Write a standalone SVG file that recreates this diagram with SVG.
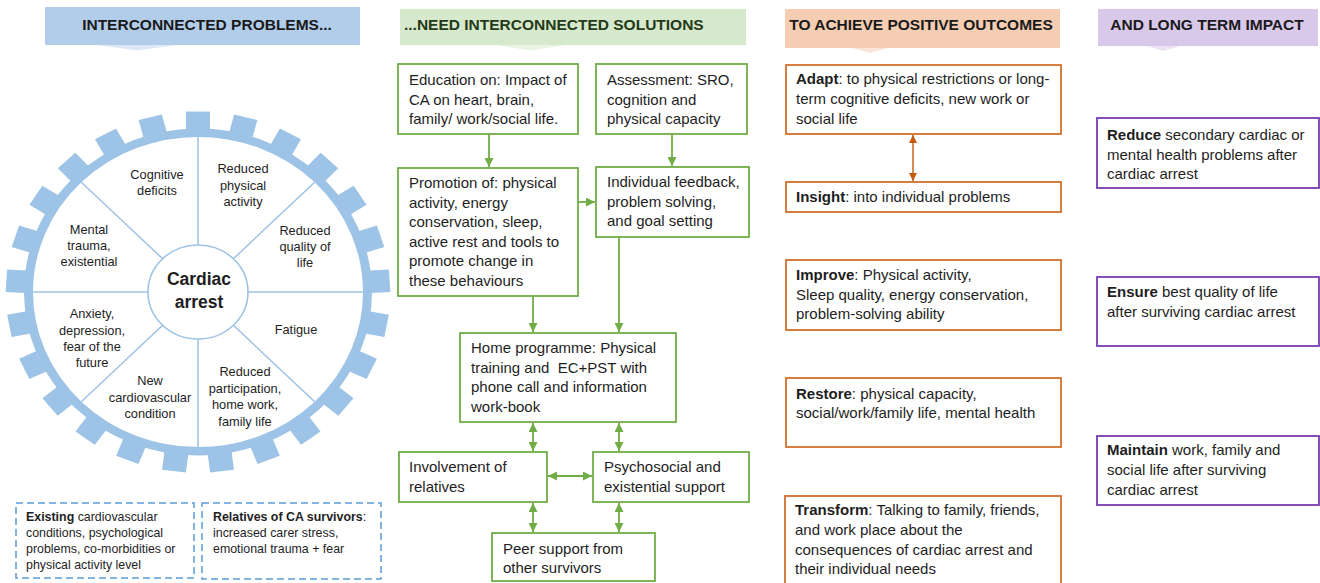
<svg xmlns="http://www.w3.org/2000/svg" xmlns:xlink="http://www.w3.org/1999/xlink" width="1320" height="583" viewBox="0 0 1320 583">
  <style>
    .t { font-family: "Liberation Sans", Arial, sans-serif; fill: #1e1e1e; }
    .s15 { font-size: 15px; }
    .s13 { font-size: 12.8px; }
    .s12 { font-size: 12.4px; }
    .hdr { font-family: "Liberation Sans", Arial, sans-serif; font-weight: bold; font-size: 15.5px; fill: #1a1a1a; }
    .b { font-weight: bold; }
    .mid { text-anchor: middle; }
    .ringfill { fill: #9dc3e6; }
    .spoke { stroke: #9dc3e6; stroke-width: 1.5; fill: none; }
    .gbox { fill: #ffffff; stroke: #70ad47; stroke-width: 1.8; }
    .obox { fill: #ffffff; stroke: #d2702c; stroke-width: 1.8; }
    .pbox { fill: #ffffff; stroke: #7a3bb0; stroke-width: 1.8; }
    .dbox { fill: none; stroke: #5b9bd5; stroke-width: 1.5; stroke-dasharray: 7 4; }
    .gline { stroke: #70ad47; stroke-width: 1.8; fill: none; }
    .oline { stroke: #c55a11; stroke-width: 1.4; fill: none; }
  </style>
  <defs>
    <marker id="ag" viewBox="0 0 10 10" refX="10" refY="5" markerWidth="9" markerHeight="9" markerUnits="userSpaceOnUse" orient="auto-start-reverse">
      <path d="M0,0 L10,5 L0,10 z" fill="#70ad47"/>
    </marker>
    <marker id="ao" viewBox="0 0 10 10" refX="10" refY="5" markerWidth="8" markerHeight="8" markerUnits="userSpaceOnUse" orient="auto-start-reverse">
      <path d="M0,0 L10,5 L0,10 z" fill="#c55a11"/>
    </marker>
    <rect id="tooth" class="ringfill" x="-12" y="-192" width="24" height="24"/>
  </defs>

  <rect width="1320" height="583" fill="#ffffff"/>

  <!-- column headers -->
  <g id="header-problems">
    <rect x="45" y="7" width="315" height="38" fill="#b2cdea"/>
    <polygon points="97,45 177,45 137,50.5" fill="#b2cdea" opacity="0.45"/>
    <text class="hdr mid" x="207" y="29.5">INTERCONNECTED PROBLEMS...</text>
  </g>
  <g id="header-solutions">
    <rect x="400" y="9" width="346" height="36" fill="#d6e9cc"/>
    <polygon points="496,45 566,45 531,50.5" fill="#d6e9cc" opacity="0.5"/>
    <text class="hdr" x="404" y="30" style="fill:#243a18">...NEED INTERCONNECTED SOLUTIONS</text>
  </g>
  <g id="header-outcomes">
    <rect x="785" y="9" width="275" height="39" fill="#f5cdb2"/>
    <polygon points="852,48 888,48 870,53" fill="#f5cdb2" opacity="0.5"/>
    <text class="hdr mid" x="921" y="30">TO ACHIEVE POSITIVE OUTCOMES</text>
  </g>
  <g id="header-impact">
    <rect x="1098" y="9" width="220" height="37" fill="#d8c8ea"/>
    <polygon points="1147,46 1180,46 1163,51" fill="#d8c8ea" opacity="0.5"/>
    <text class="hdr mid" x="1207" y="29.5">AND LONG TERM IMPACT</text>
  </g>

  <!-- cardiac arrest wheel -->
  <g id="wheel">
    <g transform="translate(198,292) scale(1,0.94)">
      <circle r="169.5" fill="#ffffff" stroke="#9dc3e6" stroke-width="9"/>
      <use xlink:href="#tooth" transform="rotate(0)"/>
      <use xlink:href="#tooth" transform="rotate(14.4)"/>
      <use xlink:href="#tooth" transform="rotate(28.8)"/>
      <use xlink:href="#tooth" transform="rotate(43.2)"/>
      <use xlink:href="#tooth" transform="rotate(57.6)"/>
      <use xlink:href="#tooth" transform="rotate(72)"/>
      <use xlink:href="#tooth" transform="rotate(86.4)"/>
      <use xlink:href="#tooth" transform="rotate(100.8)"/>
      <use xlink:href="#tooth" transform="rotate(115.2)"/>
      <use xlink:href="#tooth" transform="rotate(129.6)"/>
      <use xlink:href="#tooth" transform="rotate(144)"/>
      <use xlink:href="#tooth" transform="rotate(158.4)"/>
      <use xlink:href="#tooth" transform="rotate(172.8)"/>
      <use xlink:href="#tooth" transform="rotate(187.2)"/>
      <use xlink:href="#tooth" transform="rotate(201.6)"/>
      <use xlink:href="#tooth" transform="rotate(216)"/>
      <use xlink:href="#tooth" transform="rotate(230.4)"/>
      <use xlink:href="#tooth" transform="rotate(244.8)"/>
      <use xlink:href="#tooth" transform="rotate(259.2)"/>
      <use xlink:href="#tooth" transform="rotate(273.6)"/>
      <use xlink:href="#tooth" transform="rotate(288)"/>
      <use xlink:href="#tooth" transform="rotate(302.4)"/>
      <use xlink:href="#tooth" transform="rotate(316.8)"/>
      <use xlink:href="#tooth" transform="rotate(331.2)"/>
      <use xlink:href="#tooth" transform="rotate(345.6)"/>
      <!-- eight spokes -->
      <path class="spoke" d="M50,0 L165,0 M-50,0 L-165,0 M0,50 L0,165 M0,-50 L0,-165 M35.36,35.36 L116.67,116.67 M-35.36,35.36 L-116.67,116.67 M35.36,-35.36 L116.67,-116.67 M-35.36,-35.36 L-116.67,-116.67"/>
      <circle r="50" fill="#ffffff" stroke="#9dc3e6" stroke-width="1.6"/>
    </g>
    <text class="t mid b" x="199" y="285" style="font-size:17.5px">Cardiac</text>
    <text class="t mid b" x="199" y="307.5" style="font-size:17.5px">arrest</text>
  </g>

  <g id="seg-cognitive">
    <text class="t s13 mid" x="157" y="179">Cognitive</text>
    <text class="t s13 mid" x="157" y="195">deficits</text>
  </g>
  <g id="seg-physical">
    <text class="t s13 mid" x="243" y="173">Reduced</text>
    <text class="t s13 mid" x="243" y="189.5">physical</text>
    <text class="t s13 mid" x="243" y="205.5">activity</text>
  </g>
  <g id="seg-quality">
    <text class="t s13 mid" x="305" y="234.5">Reduced</text>
    <text class="t s13 mid" x="305" y="251">quality of</text>
    <text class="t s13 mid" x="305" y="267">life</text>
  </g>
  <g id="seg-fatigue">
    <text class="t s13 mid" x="296" y="333.5">Fatigue</text>
  </g>
  <g id="seg-participation">
    <text class="t s13 mid" x="245" y="376">Reduced</text>
    <text class="t s13 mid" x="245" y="392.5">participation,</text>
    <text class="t s13 mid" x="245" y="409">home work,</text>
    <text class="t s13 mid" x="245" y="425.5">family life</text>
  </g>
  <g id="seg-cardiovascular">
    <text class="t s13 mid" x="150" y="385">New</text>
    <text class="t s13 mid" x="150" y="401.5">cardiovascular</text>
    <text class="t s13 mid" x="150" y="418">condition</text>
  </g>
  <g id="seg-anxiety">
    <text class="t s13 mid" x="92" y="318">Anxiety,</text>
    <text class="t s13 mid" x="92" y="334.5">depression,</text>
    <text class="t s13 mid" x="92" y="350.5">fear of the</text>
    <text class="t s13 mid" x="92" y="366.5">future</text>
  </g>
  <g id="seg-mental">
    <text class="t s13 mid" x="89" y="233.5">Mental</text>
    <text class="t s13 mid" x="89" y="249.5">trauma,</text>
    <text class="t s13 mid" x="89" y="266">existential</text>
  </g>

  <!-- context boxes -->
  <g id="existing">
    <rect class="dbox" x="16" y="503" width="178" height="75"/>
    <text class="t s12" x="26" y="521"><tspan class="b">Existing</tspan> cardiovascular</text>
    <text class="t s12" x="26" y="537">conditions, psychological</text>
    <text class="t s12" x="26" y="553">problems, co-morbidities or</text>
    <text class="t s12" x="26" y="568.5">physical activity level</text>
  </g>
  <g id="relatives-ca">
    <rect class="dbox" x="202" y="503" width="179" height="76"/>
    <text class="t s12" x="213" y="521"><tspan class="b">Relatives of CA survivors</tspan>:</text>
    <text class="t s12" x="213" y="537">increased carer stress,</text>
    <text class="t s12" x="213" y="553">emotional trauma + fear</text>
  </g>

  <!-- solutions -->
  <g id="education">
    <rect class="gbox" x="398" y="64" width="180" height="70"/>
    <text class="t s15" x="409" y="85">Education on: Impact of</text>
    <text class="t s15" x="409" y="104.5">CA on heart, brain,</text>
    <text class="t s15" x="409" y="124">family/ work/social life.</text>
  </g>
  <g id="assessment">
    <rect class="gbox" x="596" y="64" width="151" height="70"/>
    <text class="t s15" x="607" y="85">Assessment: SRO,</text>
    <text class="t s15" x="607" y="104.5">cognition and</text>
    <text class="t s15" x="607" y="124">physical capacity</text>
  </g>
  <g id="promotion">
    <rect class="gbox" x="398" y="168" width="180" height="128"/>
    <text class="t s15" x="409" y="188">Promotion of: physical</text>
    <text class="t s15" x="409" y="207.5">activity, energy</text>
    <text class="t s15" x="409" y="227">conservation, sleep,</text>
    <text class="t s15" x="409" y="246.5">active rest and tools to</text>
    <text class="t s15" x="409" y="266">promote change in</text>
    <text class="t s15" x="409" y="285.5">these behaviours</text>
  </g>
  <g id="feedback">
    <rect class="gbox" x="596" y="167" width="153" height="70"/>
    <text class="t s15" x="607" y="187">Individual feedback,</text>
    <text class="t s15" x="607" y="206.5">problem solving,</text>
    <text class="t s15" x="607" y="226">and goal setting</text>
  </g>
  <g id="home-programme">
    <rect class="gbox" x="460" y="333" width="216" height="89"/>
    <text class="t s15" x="471" y="353">Home programme: Physical</text>
    <text class="t s15" x="471" y="372.5" xml:space="preserve">training and  EC+PST with</text>
    <text class="t s15" x="471" y="392">phone call and information</text>
    <text class="t s15" x="471" y="411.5">work-book</text>
  </g>
  <g id="relatives">
    <rect class="gbox" x="399" y="452" width="148" height="50"/>
    <text class="t s15" x="409" y="472">Involvement of</text>
    <text class="t s15" x="409" y="492">relatives</text>
  </g>
  <g id="psychosocial">
    <rect class="gbox" x="593" y="452" width="156" height="50"/>
    <text class="t s15" x="604" y="472">Psychosocial and</text>
    <text class="t s15" x="604" y="492">existential support</text>
  </g>
  <g id="peer-support">
    <rect class="gbox" x="492" y="533" width="163" height="48"/>
    <text class="t s15" x="503" y="553.5">Peer support from</text>
    <text class="t s15" x="503" y="573">other survivors</text>
  </g>

  <!-- outcomes -->
  <g id="adapt">
    <rect class="obox" x="786" y="65" width="275" height="69"/>
    <text class="t s15" x="796" y="84"><tspan class="b">Adapt</tspan>: to physical restrictions or long-</text>
    <text class="t s15" x="796" y="104">term cognitive deficits, new work or</text>
    <text class="t s15" x="796" y="123.5">social life</text>
  </g>
  <g id="insight">
    <rect class="obox" x="786" y="182" width="275" height="30"/>
    <text class="t s15" x="796" y="202"><tspan class="b">Insight</tspan>: into individual problems</text>
  </g>
  <g id="improve">
    <rect class="obox" x="786" y="260" width="275" height="70"/>
    <text class="t s15" x="796" y="280"><tspan class="b">Improve</tspan>: Physical activity,</text>
    <text class="t s15" x="796" y="299.5">Sleep quality, energy conservation,</text>
    <text class="t s15" x="796" y="319">problem-solving ability</text>
  </g>
  <g id="restore">
    <rect class="obox" x="786" y="378" width="275" height="69"/>
    <text class="t s15" x="796" y="398.5"><tspan class="b">Restore</tspan>: physical capacity,</text>
    <text class="t s15" x="796" y="418">social/work/family life, mental health</text>
  </g>
  <g id="transform">
    <rect class="obox" x="785" y="496" width="276" height="96"/>
    <text class="t s15" x="795" y="515"><tspan class="b">Transform</tspan>: Talking to family, friends,</text>
    <text class="t s15" x="795" y="535">and work place about the</text>
    <text class="t s15" x="795" y="554.5">consequences of cardiac arrest and</text>
    <text class="t s15" x="795" y="574">their individual needs</text>
  </g>

  <!-- long term impact -->
  <g id="reduce">
    <rect class="pbox" x="1097" y="118" width="222" height="70"/>
    <text class="t s15" x="1107" y="140"><tspan class="b">Reduce</tspan> secondary cardiac or</text>
    <text class="t s15" x="1107" y="159.5">mental health problems after</text>
    <text class="t s15" x="1107" y="178.5">cardiac arrest</text>
  </g>
  <g id="ensure">
    <rect class="pbox" x="1097" y="277" width="222" height="69"/>
    <text class="t s15" x="1107" y="297"><tspan class="b">Ensure</tspan> best quality of life</text>
    <text class="t s15" x="1107" y="317">after surviving cardiac arrest</text>
  </g>
  <g id="maintain">
    <rect class="pbox" x="1097" y="436" width="222" height="69"/>
    <text class="t s15" x="1107" y="455"><tspan class="b">Maintain</tspan> work, family and</text>
    <text class="t s15" x="1107" y="474.5">social life after surviving</text>
    <text class="t s15" x="1107" y="494.5">cardiac arrest</text>
  </g>

  <!-- connectors -->
  <g id="connectors">
    <path class="gline" d="M489,134 L489,167" marker-end="url(#ag)"/>
    <path class="gline" d="M672,134 L672,166" marker-end="url(#ag)"/>
    <path class="gline" d="M578,202 L595,202" marker-end="url(#ag)"/>
    <path class="gline" d="M533,296 L533,332" marker-end="url(#ag)"/>
    <path class="gline" d="M619,237 L619,332" marker-end="url(#ag)"/>
    <path class="gline" d="M533,423 L533,451" marker-start="url(#ag)" marker-end="url(#ag)"/>
    <path class="gline" d="M619,423 L619,451" marker-start="url(#ag)" marker-end="url(#ag)"/>
    <path class="gline" d="M548,476 L592,476" marker-start="url(#ag)" marker-end="url(#ag)"/>
    <path class="gline" d="M533,503 L533,532" marker-start="url(#ag)" marker-end="url(#ag)"/>
    <path class="gline" d="M619,503 L619,532" marker-start="url(#ag)" marker-end="url(#ag)"/>
    <path class="oline" d="M913,135 L913,181" marker-start="url(#ao)" marker-end="url(#ao)"/>
  </g>
</svg>
